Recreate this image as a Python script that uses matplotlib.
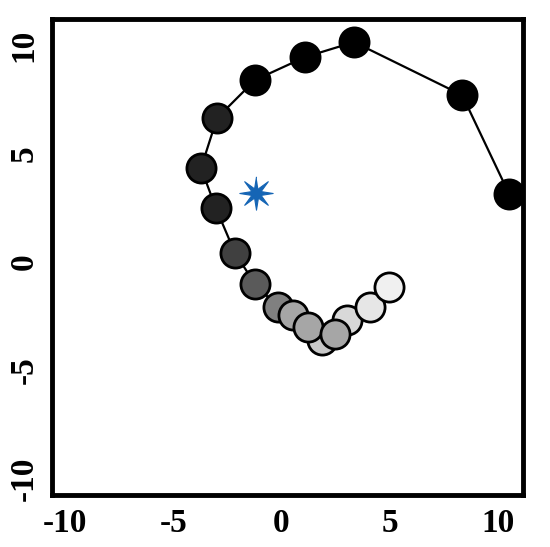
import matplotlib
matplotlib.use("Agg")
import numpy as np
import matplotlib.pyplot as plt
from matplotlib.path import Path

# trajectory points (outer -> inner)
xs = [10.51, 8.34, 3.35, 1.09, -1.22, -2.98, -3.72, -3.03, -2.15, -1.22,
      -0.16, 0.53, 1.22, 1.87, 2.47, 3.03, 4.09, 4.97]
ys = [3.14, 7.71, 10.16, 9.47, 8.41, 6.65, 4.34, 2.49, 0.42, -1.02,
      -2.08, -2.45, -3.00, -3.60, -3.33, -2.68, -2.08, -1.15]
shades = ['#000000', '#000000', '#000000', '#000000', '#000000',
          '#222222', '#222222', '#222222', '#404040', '#5a5a5a',
          '#808080', '#a6a6a6', '#a6a6a6', '#c8c8c8', '#a6a6a6',
          '#d8d8d8', '#e6e6e6', '#f0f0f0']
# stacking of the overlapping circles, bottom first
draw_order = [0, 1, 2, 3, 4, 5, 6, 7, 8, 9, 10, 11, 13, 12, 15, 14, 16, 17]

# centre marker
star_x, star_y = -1.18, 3.19

ticks = [-10, -5, 0, 5, 10]

plt.rcParams['font.family'] = ['Liberation Serif', 'DejaVu Serif']

# thin eight-pointed star marker
ang = np.pi / 2 + np.arange(16) * np.pi / 8
rad = np.where(np.arange(16) % 2 == 0, 1.0, 0.3)
star = Path(np.column_stack([rad * np.cos(ang), rad * np.sin(ang)]), closed=False)

fig = plt.figure(figsize=(5.5, 5.47), dpi=100)
ax = fig.add_axes([0.0945, 0.095, 0.8565, 0.87])

ax.plot(xs, ys, color='black', lw=1.6, zorder=1)
for k, i in enumerate(draw_order):
    ax.plot(xs[i], ys[i], 'o', ms=21, mfc=shades[i], mec='black', mew=2,
            zorder=2 + k * 0.01)

ax.plot(star_x, star_y, marker=star, ms=24, color='#1565b5',
        mec='#1565b5', mew=0.8, zorder=3)

ax.set_xlim(-10.6, 11.15)
ax.set_ylim(-10.76, 11.22)
ax.set_xticks(ticks)
ax.set_yticks(ticks)
ax.set_xticklabels([str(t) for t in ticks], fontsize=24, fontweight='bold')
ax.set_yticklabels([str(t) for t in ticks], fontsize=24, fontweight='bold',
                   rotation=90, va='center')
ax.tick_params(length=0, pad=9)
for sp in ax.spines.values():
    sp.set_linewidth(3.5)

fig.savefig('out.png', dpi=100)
